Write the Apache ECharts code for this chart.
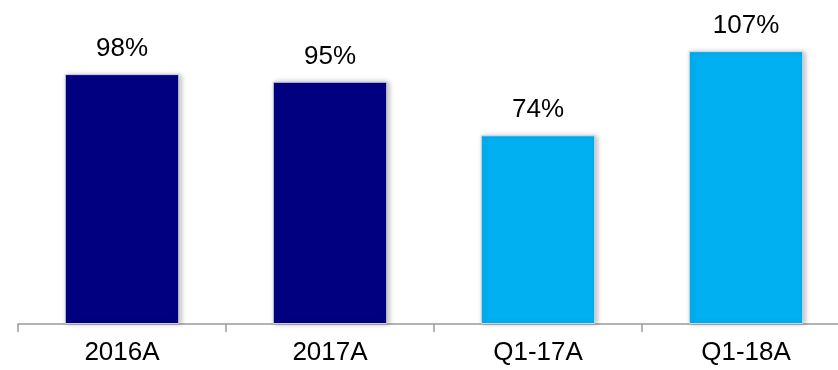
<!DOCTYPE html>
<html>
<head>
<meta charset="utf-8">
<script src="https://cdn.jsdelivr.net/npm/echarts@6/dist/echarts.min.js"></script>
<style>
  html, body { margin: 0; padding: 0; background: #ffffff; }
  #chart { width: 838px; height: 370px; }
</style>
</head>
<body>
<div id="chart"></div>
<script>
// Categories and percentage values per period
const categories = ['2016A', '2017A', 'Q1-17A', 'Q1-18A'];
const values = [98, 95, 74, 107];
const barColors = ['#000080', '#000080', '#00B0F0', '#00B0F0'];

const chart = echarts.init(document.getElementById('chart'));

chart.setOption({
  animation: false,
  backgroundColor: '#ffffff',
  grid: { left: 18, right: -12, top: 18, bottom: 46, containLabel: false, outerBoundsMode: 'none' },
  xAxis: {
    type: 'category',
    data: categories,
    axisLine: { show: true, lineStyle: { color: '#9a9a9a', width: 1.5 } },
    axisTick: { show: true, length: 8, inside: false, lineStyle: { color: '#9a9a9a', width: 1.5 } },
    axisLabel: {
      color: '#000000',
      fontFamily: 'Liberation Sans, Arial, sans-serif',
      fontSize: 26,
      margin: 16
    }
  },
  yAxis: {
    type: 'value',
    min: 0,
    max: 120,
    show: false,
    splitLine: { show: false }
  },
  series: [{
    type: 'bar',
    barWidth: '55%',
    data: values.map((v, i) => ({
      value: v,
      itemStyle: { color: barColors[i] }
    })),
    itemStyle: {
      borderColor: 'rgba(220,220,235,0.9)',
      borderWidth: 1,
      shadowColor: 'rgba(0,0,0,0.25)',
      shadowBlur: 5,
      shadowOffsetX: 2,
      shadowOffsetY: 0
    },
    label: {
      show: true,
      position: 'top',
      distance: 12,
      color: '#000000',
      fontFamily: 'Liberation Sans, Arial, sans-serif',
      fontSize: 26,
      formatter: p => p.value + '%'
    }
  }]
});
</script>
</body>
</html>
